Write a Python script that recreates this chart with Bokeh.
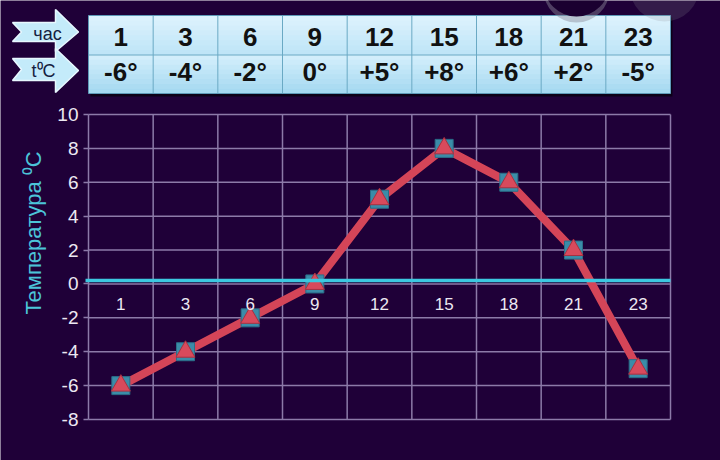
from bokeh.plotting import figure
from bokeh.models import Range1d, FixedTicker, LinearAxis, ColumnDataSource
from bokeh.core.properties import value
from bokeh.embed import file_html
from bokeh.resources import INLINE

# ---- data ----
hours = ["1", "3", "6", "9", "12", "15", "18", "21", "23"]
temps = [-6, -4, -2, 0, 5, 8, 6, 2, -5]
temp_labels = ["-6°", "-4°", "-2°", "0°", "+5°", "+8°", "+6°", "+2°", "-5°"]
y_ticks = [-8, -6, -4, -2, 0, 2, 4, 6, 8, 10]
row_names = ["час", "t⁰C"]
y_title = "Температура ⁰C"

BG = "#1f0038"
GRID = "#8c7aa8"
FONT = "Liberation Sans"

n = len(hours)
xs = [i + 0.5 for i in range(n)]
ymin, ymax = y_ticks[0], y_ticks[-1]

W, H = 720, 460
# chart frame placement in page pixels
FL, FR, FT, FB = 88, 670, 114, 419
ux = n / (FR - FL)
uy = (ymax - ymin) / (FB - FT)
x0 = -FL * ux
x1 = n + (W - FR) * ux
y1 = ymax + FT * uy
y0 = ymin - (H - FB) * uy

def X(px):   # page px -> data x
    return x0 + px * ux

def Y(py):   # page px -> data y
    return y1 - py * uy

p = figure(width=W, height=H, x_range=Range1d(x0, x1), y_range=Range1d(y0, y1),
           output_backend="svg", toolbar_location=None, min_border=0,
           background_fill_color=BG, border_fill_color=BG, outline_line_color=None,
           x_axis_location=None, y_axis_location=None)
p.grid.visible = False

# ---------- grid (limited to chart area) ----------
p.segment(x0=[0] * len(y_ticks), x1=[n] * len(y_ticks), y0=y_ticks, y1=y_ticks,
          line_color=GRID, line_width=1.5)
p.segment(x0=list(range(n + 1)), x1=list(range(n + 1)), y0=[ymin] * (n + 1), y1=[ymax] * (n + 1),
          line_color=GRID, line_width=1.5)

# ---------- axes ----------
yax = LinearAxis(ticker=FixedTicker(ticks=y_ticks), fixed_location=0, bounds=(ymin, 14),
                 major_label_overrides={t: str(t) for t in y_ticks})
yax.axis_line_color = None
yax.major_tick_line_color = GRID
yax.major_tick_line_width = 1.5
yax.major_tick_out = 5
yax.major_tick_in = 0
yax.minor_tick_line_color = None
yax.major_label_text_color = "#ece8f2"
yax.major_label_text_font = FONT
yax.major_label_text_font_size = "19px"
yax.major_label_standoff = 5
yax.axis_label = y_title
yax.axis_label_text_color = "#4cc4d8"
yax.axis_label_text_font = FONT
yax.axis_label_text_font_size = "22px"
yax.axis_label_text_font_style = "normal"
yax.axis_label_standoff = 8
p.add_layout(yax, "left")

xax = LinearAxis(ticker=FixedTicker(ticks=xs), fixed_location=0.2, bounds=(-0.05, n),
                 major_label_overrides={x: h for x, h in zip(xs, hours)})
xax.axis_line_color = "#3cc8e0"
xax.axis_line_width = 3.5
xax.major_tick_line_color = None
xax.minor_tick_line_color = None
xax.major_label_text_color = "#ece8f2"
xax.major_label_text_font = FONT
xax.major_label_text_font_size = "17px"
xax.major_label_standoff = 11
p.add_layout(xax, "below")

# ---------- data line ----------
src = ColumnDataSource(dict(x=xs, y=temps))
p.line("x", "y", source=src, line_color="#d44558", line_width=8, line_join="round")
p.scatter("x", "y", source=src, marker="square", size=18, fill_color="#3b8ca8",
          line_color="#2a6e88", line_width=1)
p.scatter("x", "y", source=src, marker="triangle", size=19, fill_color="#d84a5c",
          line_color="#a83040", line_width=1)

# ---------- table at the top ----------
T_TOP, T_MID, T_BOT = Y(15), Y(54.5), Y(93)
p.quad(left=[0.03], right=[n + 0.03], top=[T_TOP - 2 * uy], bottom=[T_BOT - 3 * uy],
       fill_color="#0c0018", line_color=None)
bands = 8
rows = [(T_TOP, T_MID, "#dcf2fd", "#bfe5f7"), (T_MID, T_BOT, "#d2eefb", "#a6d9f1")]
def mix(c1, c2, t):
    a = [int(c1[i:i + 2], 16) for i in (1, 3, 5)]
    b = [int(c2[i:i + 2], 16) for i in (1, 3, 5)]
    return "#%02x%02x%02x" % tuple(int(round(a[k] + (b[k] - a[k]) * t)) for k in range(3))
for rt, rb, c1, c2 in rows:
    h = (rt - rb) / bands
    for k in range(bands):
        col = mix(c1, c2, k / (bands - 1))
        bot_k = rt - (k + 1) * h - (0.3 * h if k < bands - 1 else 0)
        p.quad(left=[0], right=[n], top=[rt - k * h], bottom=[bot_k], fill_color=col, line_color=None)
p.segment(x0=list(range(1, n)), x1=list(range(1, n)), y0=[T_BOT] * (n - 1), y1=[T_TOP] * (n - 1),
          line_color="#6aa9c4", line_width=1)
p.segment(x0=[0], x1=[n], y0=[T_MID], y1=[T_MID], line_color="#6aa9c4", line_width=1)
p.quad(left=[0], right=[n], top=[T_TOP], bottom=[T_BOT], fill_color=None,
       line_color="#5e9ab8", line_width=1)

src_t = ColumnDataSource(dict(x=xs, h=hours, t=temp_labels,
                              ya=[Y(36)] * n, yb=[Y(71.5)] * n))
p.text(x="x", y="ya", text="h", source=src_t, text_align="center", text_baseline="middle",
       text_font=value(FONT), text_font_style="bold", text_font_size="26px", text_color="#111111")
p.text(x="x", y="yb", text="t", source=src_t, text_align="center", text_baseline="middle",
       text_font=value(FONT), text_font_style="bold", text_font_size="26px", text_color="#111111")

# phone UI circles (top right of the screenshot)
p.circle(x=[X(576), X(664)], y=[Y(-11), Y(-14)], radius=[33 * ux, 35 * ux],
         fill_color="#8a8a98", fill_alpha=[0.45, 0.2], line_color=None)
p.circle(x=[X(576), X(664)], y=[Y(-17), Y(-19)], radius=[33 * ux, 35 * ux],
         fill_color="#1a0030", line_color=None)

# arrows
arrow1 = [(12, 22), (55, 22), (55, 9), (78, 31.5), (55, 51), (55, 41), (12, 41), (21, 31.5)]
arrow2 = [(12, 58), (55, 58), (55, 48), (78, 70), (55, 92), (55, 80), (12, 80), (21, 69)]
for arr in (arrow1, arrow2):
    p.patch([X(q[0]) for q in arr], [Y(q[1]) for q in arr], fill_color="#c4ebfa",
            line_color="#e8f8ff", line_width=1.5)
p.text(x=[X(47), X(43)], y=[Y(33), Y(70)], text=row_names, text_align="center",
       text_baseline="middle", text_font=value(FONT), text_font_size="18px",
       text_color="#142040")

open("out.html", "w").write(file_html(p, INLINE))
